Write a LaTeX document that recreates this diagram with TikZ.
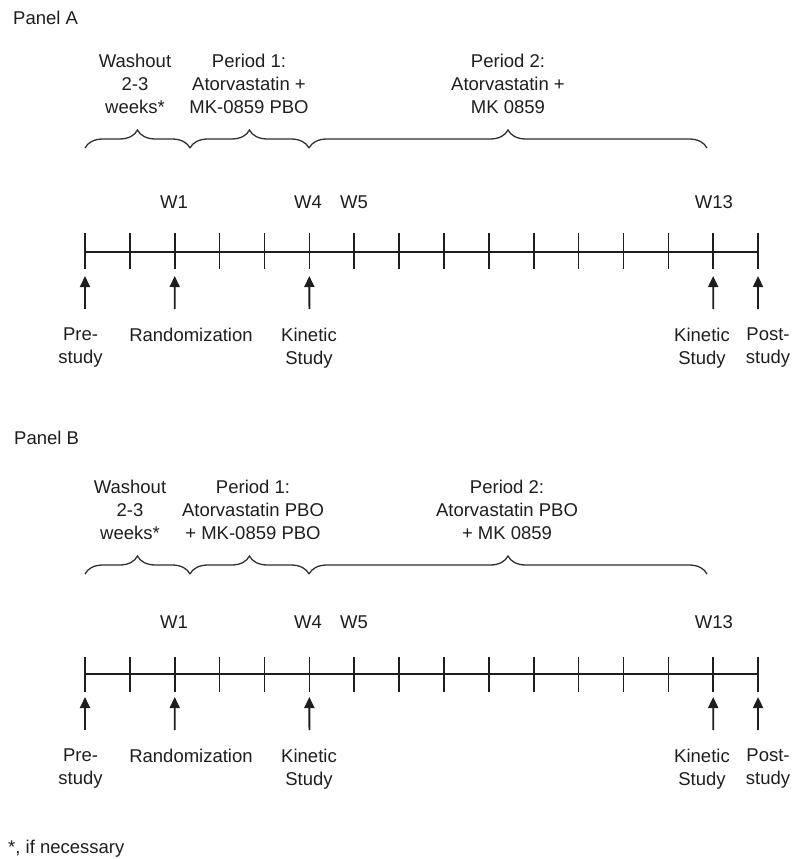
\documentclass[tikz,border=0pt]{standalone}
\usepackage{fontspec}
\setmainfont{Liberation Sans}
\usepackage{tikz}
\usetikzlibrary{arrows.meta,decorations.pathreplacing}
\definecolor{tl-ink}{HTML}{1E1E1E}
\definecolor{tl-brace}{HTML}{303030}

\begin{document}
\begin{tikzpicture}[x=1pt, y=-1pt, >={Triangle[length=11pt,width=10pt]},
    every node/.style={inner sep=0pt, text=tl-ink, font=\fontsize{18.5}{23}\selectfont},
    lbl/.style={anchor=north, align=center},
    tickline/.style={line width=1.6pt, tl-ink},
    axis/.style={line width=1.5pt, tl-ink},
    brc/.style={decorate, decoration={brace, amplitude=18pt}, line width=1.3pt, tl-brace},
    evt/.style={->, line width=1.8pt, tl-ink}]
    \useasboundingbox (0,0) rectangle (793,859);

    % Panel A
    \node[anchor=north west] (titleA) at (13,10.5) {Panel A};
    \node[lbl] (washA) at (135,54) {Washout\\2-3\\weeks*};
    \node[lbl] (per1A) at (249,54) {Period 1:\\Atorvastatin +\\MK-0859 PBO};
    \node[lbl] (per2A) at (508,54) {Period 2:\\Atorvastatin +\\MK 0859};
    \coordinate (bA0) at (85,148);
    \coordinate (bA1) at (190,148);
    \coordinate (bA2) at (309,148);
    \coordinate (bA3) at (707,148);
    \draw[brc] (bA0) -- (bA1);
    \draw[brc] (bA1) -- (bA2);
    \draw[brc] (bA2) -- (bA3);
    \node[lbl] (w1A) at (174,195.5) {W1};
    \node[lbl] (w4A) at (308,195.5) {W4};
    \node[lbl] (w5A) at (354,195.5) {W5};
    \node[lbl] (w13A) at (714,195.5) {W13};
    \foreach \i in {0,...,15} {
        \coordinate (tA\i) at ({85+44.87*\i},252);
        \draw[tickline] ([yshift=19pt]tA\i) -- ([yshift=-17pt]tA\i);
    }
    \draw[axis] (tA0) -- (tA15);
    \coordinate (sA0) at (85,309);
    \coordinate (sA2) at (174.7,309);
    \coordinate (sA5) at (309.4,309);
    \coordinate (sA14) at (713.2,309);
    \coordinate (sA15) at (758,309);
    \draw[evt] (sA0) -- ([yshift=-24pt]tA0);
    \draw[evt] (sA2) -- ([yshift=-24pt]tA2);
    \draw[evt] (sA5) -- ([yshift=-24pt]tA5);
    \draw[evt] (sA14) -- ([yshift=-24pt]tA14);
    \draw[evt] (sA15) -- ([yshift=-24pt]tA15);
    \node[lbl] (preA) at (80.5,327.5) {Pre-\\study};
    \node[lbl] (randA) at (191,327.5) {Randomization};
    \node[lbl] (kin1A) at (309,327.5) {Kinetic\\Study};
    \node[lbl] (kin2A) at (702,327.5) {Kinetic\\Study};
    \node[lbl] (postA) at (768,327.5) {Post-\\study};

    % Panel B
    \node[anchor=north west] (titleB) at (14,430.5) {Panel B};
    \node[lbl] (washB) at (130,480) {Washout\\2-3\\weeks*};
    \node[lbl] (per1B) at (253,480) {Period 1:\\Atorvastatin PBO\\+ MK-0859 PBO};
    \node[lbl] (per2B) at (507,480) {Period 2:\\Atorvastatin PBO\\+ MK 0859};
    \coordinate (bB0) at (85,574);
    \coordinate (bB1) at (190,574);
    \coordinate (bB2) at (309,574);
    \coordinate (bB3) at (707,574);
    \draw[brc] (bB0) -- (bB1);
    \draw[brc] (bB1) -- (bB2);
    \draw[brc] (bB2) -- (bB3);
    \node[lbl] (w1B) at (174,615.5) {W1};
    \node[lbl] (w4B) at (308,615.5) {W4};
    \node[lbl] (w5B) at (354,615.5) {W5};
    \node[lbl] (w13B) at (714,615.5) {W13};
    \foreach \i in {0,...,15} {
        \coordinate (tB\i) at ({85+44.87*\i},674);
        \draw[tickline] ([yshift=17pt]tB\i) -- ([yshift=-18pt]tB\i);
    }
    \draw[axis] (tB0) -- (tB15);
    \coordinate (sB0) at (85,730);
    \coordinate (sB2) at (174.7,730);
    \coordinate (sB5) at (309.4,730);
    \coordinate (sB14) at (713.2,730);
    \coordinate (sB15) at (758,730);
    \draw[evt] (sB0) -- ([yshift=-23pt]tB0);
    \draw[evt] (sB2) -- ([yshift=-23pt]tB2);
    \draw[evt] (sB5) -- ([yshift=-23pt]tB5);
    \draw[evt] (sB14) -- ([yshift=-23pt]tB14);
    \draw[evt] (sB15) -- ([yshift=-23pt]tB15);
    \node[lbl] (preB) at (80.5,748.5) {Pre-\\study};
    \node[lbl] (randB) at (191,748.5) {Randomization};
    \node[lbl] (kin1B) at (309,748.5) {Kinetic\\Study};
    \node[lbl] (kin2B) at (702,748.5) {Kinetic\\Study};
    \node[lbl] (postB) at (768,748.5) {Post-\\study};

    \node[anchor=north west] (note) at (8,840) {*, if necessary};
\end{tikzpicture}
\end{document}
